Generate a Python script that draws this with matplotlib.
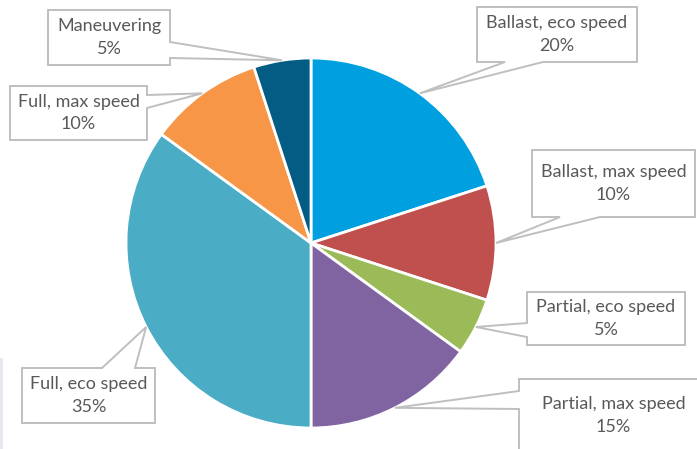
import numpy as np
import matplotlib.pyplot as plt
from matplotlib.patches import Polygon, Rectangle

W, H = 697, 449

labels = [
    "Ballast, eco speed",
    "Ballast, max speed",
    "Partial, eco speed",
    "Partial, max speed",
    "Full, eco speed",
    "Full, max speed",
    "Maneuvering",
]
shares = [20, 10, 5, 15, 35, 10, 5]
colors = ["#009FE0", "#C0504D", "#9BBB59", "#8064A2", "#4BACC6", "#F79646", "#035C84"]

# callout boxes in image pixels: (x0, y0, x1, y1), side of pointer, two base points along that side
boxes = [
    ((477, 7, 637, 62), "bottom", (543, 505)),
    ((532, 150, 695, 217), "bottom", (600, 560)),
    ((527, 292, 685, 345), "left", (337, 323)),
    ((519, 379, 708, 452), "left", (409, 391)),
    ((22, 368, 155, 423), "top", (102, 135)),
    ((10, 86, 147, 140), "right", (95, 108)),
    ((48, 10, 170, 65), "right", (42, 58)),
]

CX, CY, R = 311, 243, 185

fig = plt.figure(figsize=(W / 100, H / 100), dpi=100)
ax = fig.add_axes([0, 0, 1, 1])


def fy(y):
    return H - y


wedges, _ = ax.pie(
    shares,
    colors=colors,
    startangle=90,
    counterclock=False,
    center=(CX, fy(CY)),
    radius=R,
    wedgeprops=dict(edgecolor="white", linewidth=2),
    frame=True,
)
ax.set_xlim(0, W)
ax.set_ylim(0, H)
ax.set_aspect("equal")
ax.axis("off")

# faint strip at the left edge
ax.add_patch(Rectangle((0, 0), 3, fy(358), color="#E6EAEF", lw=0, zorder=0))


def callout(box, side, base, tip):
    x0, y0, x1, y1 = box
    b0, b1 = base
    if side == "top":
        pts = [(x0, y0), (b0, y0), tip, (b1, y0), (x1, y0), (x1, y1), (x0, y1)]
    elif side == "right":
        pts = [(x0, y0), (x1, y0), (x1, b0), tip, (x1, b1), (x1, y1), (x0, y1)]
    elif side == "bottom":
        pts = [(x0, y0), (x1, y0), (x1, y1), (b0, y1), tip, (b1, y1), (x0, y1)]
    else:
        pts = [(x0, y0), (x1, y0), (x1, y1), (x0, y1), (x0, b0), tip, (x0, b1)]
    return [(px, fy(py)) for px, py in pts]


for wedge, label, share, (box, side, base) in zip(wedges, labels, shares, boxes):
    mid = np.deg2rad(0.5 * (wedge.theta1 + wedge.theta2))
    tip = (CX + R * np.cos(mid), CY - R * np.sin(mid))
    poly = Polygon(callout(box, side, base, tip), closed=True, facecolor="white",
                   edgecolor="#BFBFBF", linewidth=1.4, zorder=3, clip_on=True)
    ax.add_patch(poly)
    x0, y0, x1, y1 = box
    ax.text(0.5 * (x0 + x1), fy(0.5 * (y0 + y1)), f"{label}\n{share}%",
            ha="center", va="center", fontsize=13, color="#595959",
            family="Lato", linespacing=1.5, zorder=4)

fig.savefig("out.png", dpi=100)
